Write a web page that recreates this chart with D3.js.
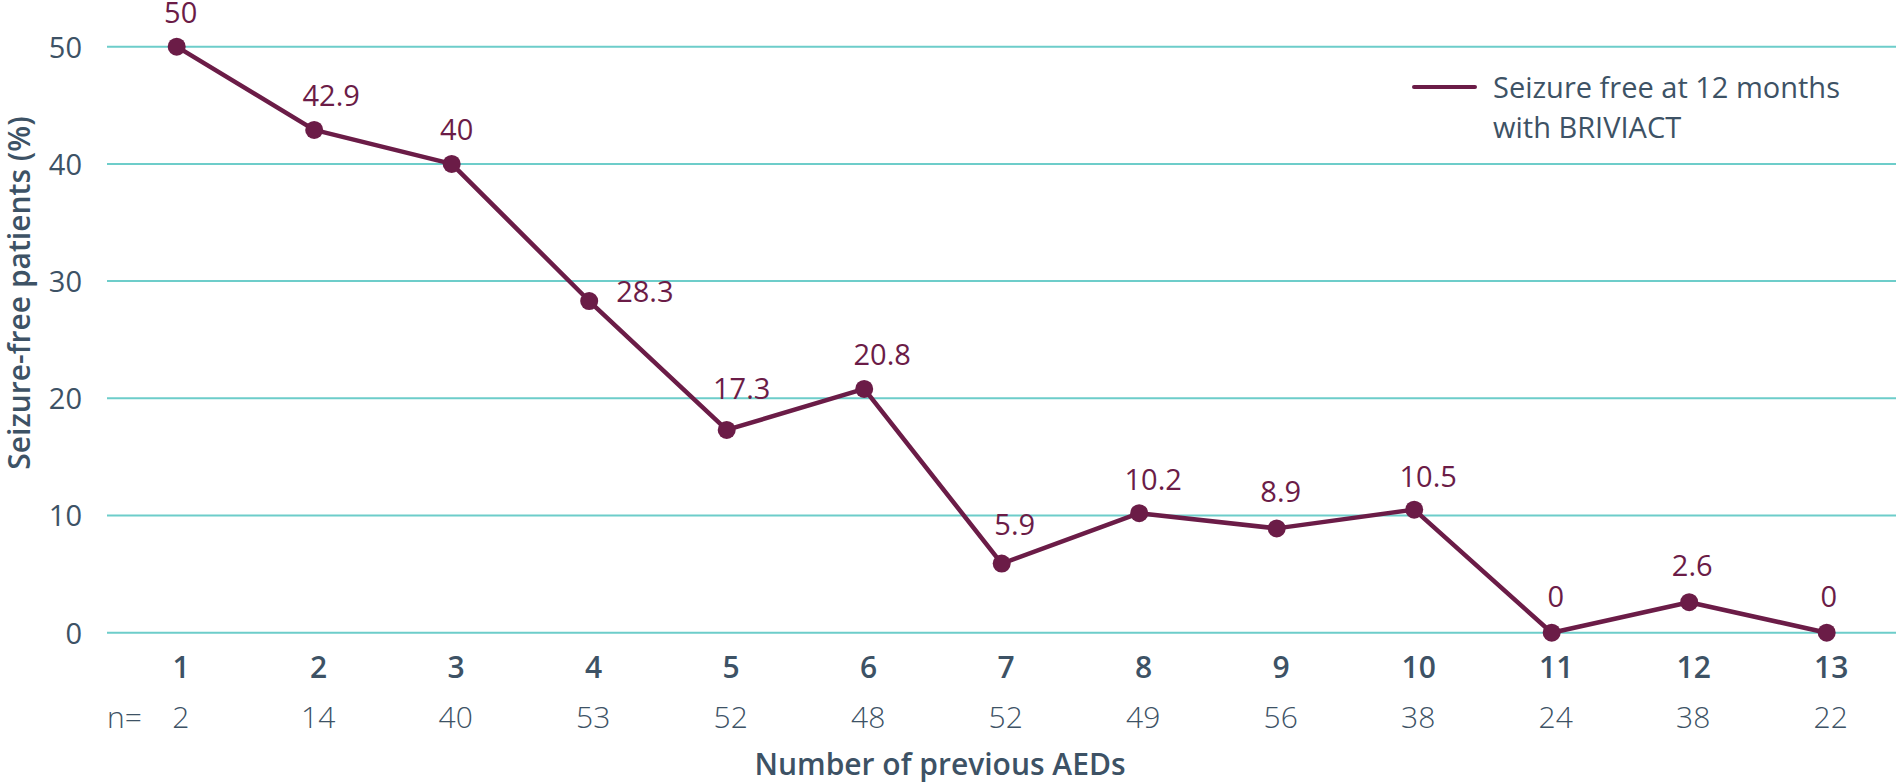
<!DOCTYPE html>
<html>
<head>
<meta charset="utf-8">
<script src="https://cdn.jsdelivr.net/npm/d3@7"></script>
<style>
  html, body { margin: 0; padding: 0; background: #ffffff; }
  svg { display: block; }
  text { font-family: "Open Sans", Lato, sans-serif; }
</style>
</head>
<body>
<svg id="chart" width="1896" height="783"></svg>
<script>
// ---- data ----
const categories = [1, 2, 3, 4, 5, 6, 7, 8, 9, 10, 11, 12, 13];
const seizureFree = [50, 42.9, 40, 28.3, 17.3, 20.8, 5.9, 10.2, 8.9, 10.5, 0, 2.6, 0];
const nValues = [2, 14, 40, 53, 52, 48, 52, 49, 56, 38, 24, 38, 22];
const yTicks = [0, 10, 20, 30, 40, 50];
const seriesName = ["Seizure free at 12 months", "with BRIVIACT"];
const yTitle = "Seizure-free patients (%)";
const xTitle = "Number of previous AEDs";

// label nudges (layout only)
const labelDx = [4, 17, 5, 27, 15, 18, 13, 14, 4, 14, 4, 3, 2];
const labelDy = [-24, -24, -24, 1, -31, -24, -29, -23, -26, -23, -26, -26, -26];

// ---- layout ----
const W = 1896, H = 783;
const slate = "#3d5265";
const maroon = "#6b1c47";
const grid = "#6dcdca";
const FONT = "'Open Sans', Lato, sans-serif";

const svg = d3.select("#chart");

const x = d3.scalePoint().domain(categories).range([176.7, 1826.7]);
const y = d3.scaleLinear().domain([0, 50]).range([632.7, 46.7]);

// gridlines
svg.append("g").selectAll("line").data(yTicks).join("line")
  .attr("x1", 107).attr("x2", W)
  .attr("y1", d => y(d)).attr("y2", d => y(d))
  .attr("stroke", grid).attr("stroke-width", 2);

// y axis labels
const yAxis = d3.axisLeft(y).tickValues(yTicks).tickSize(0).tickPadding(0);
const gy = svg.append("g").attr("transform", "translate(82,0)").call(yAxis);
gy.select(".domain").remove();
gy.selectAll("text")
  .attr("fill", slate).attr("font-size", 29).attr("font-weight", 400)
  .attr("font-family", FONT).attr("dy", "0.36em");

// x axis labels (categories)
const xAxis = d3.axisBottom(x).tickSize(0).tickPadding(0);
const gx = svg.append("g").attr("transform", "translate(4,678)").call(xAxis);
gx.select(".domain").remove();
gx.selectAll("text")
  .attr("y", 0).attr("dy", 0)
  .attr("fill", slate).attr("font-size", 30).attr("font-weight", 600)
  .attr("font-family", FONT);

// n row
svg.append("g").selectAll("text").data(categories).join("text")
  .attr("x", d => x(d) + 4).attr("y", 728)
  .attr("text-anchor", "middle")
  .attr("fill", slate).attr("font-size", 30).attr("font-weight", 300)
  .text((d, i) => nValues[i]);
svg.append("text")
  .attr("x", 107).attr("y", 728)
  .attr("fill", slate).attr("font-size", 30).attr("font-weight", 300)
  .text("n=");

// axis titles
svg.append("text")
  .attr("transform", "translate(30,293) rotate(-90)")
  .attr("text-anchor", "middle")
  .attr("fill", slate).attr("font-size", 30).attr("font-weight", 600)
  .text(yTitle);
svg.append("text")
  .attr("x", 940).attr("y", 775)
  .attr("text-anchor", "middle")
  .attr("fill", slate).attr("font-size", 30).attr("font-weight", 600)
  .text(xTitle);

// line
const pts = categories.map((c, i) => ({ c, v: seizureFree[i], i }));
const line = d3.line().x(d => x(d.c)).y(d => y(d.v));
svg.append("path").datum(pts)
  .attr("d", line)
  .attr("fill", "none").attr("stroke", maroon)
  .attr("stroke-width", 4.5).attr("stroke-linejoin", "round");

// markers
svg.append("g").selectAll("circle").data(pts).join("circle")
  .attr("cx", d => x(d.c)).attr("cy", d => y(d.v)).attr("r", 9)
  .attr("fill", maroon);

// value labels
svg.append("g").selectAll("text").data(pts).join("text")
  .attr("x", d => x(d.c) + labelDx[d.i])
  .attr("y", d => y(d.v) + labelDy[d.i])
  .attr("text-anchor", d => d.i === 3 ? "start" : "middle")
  .attr("fill", maroon).attr("font-size", 29).attr("font-weight", 500)
  .text(d => d.v);

// legend
svg.append("line")
  .attr("x1", 1414).attr("x2", 1475).attr("y1", 87).attr("y2", 87)
  .attr("stroke", maroon).attr("stroke-width", 4).attr("stroke-linecap", "round");
svg.append("g").selectAll("text").data(seriesName).join("text")
  .attr("x", 1493).attr("y", (d, i) => 98 + i * 40)
  .attr("fill", slate).attr("font-size", 29).attr("font-weight", 400)
  .text(d => d);
</script>
</body>
</html>
